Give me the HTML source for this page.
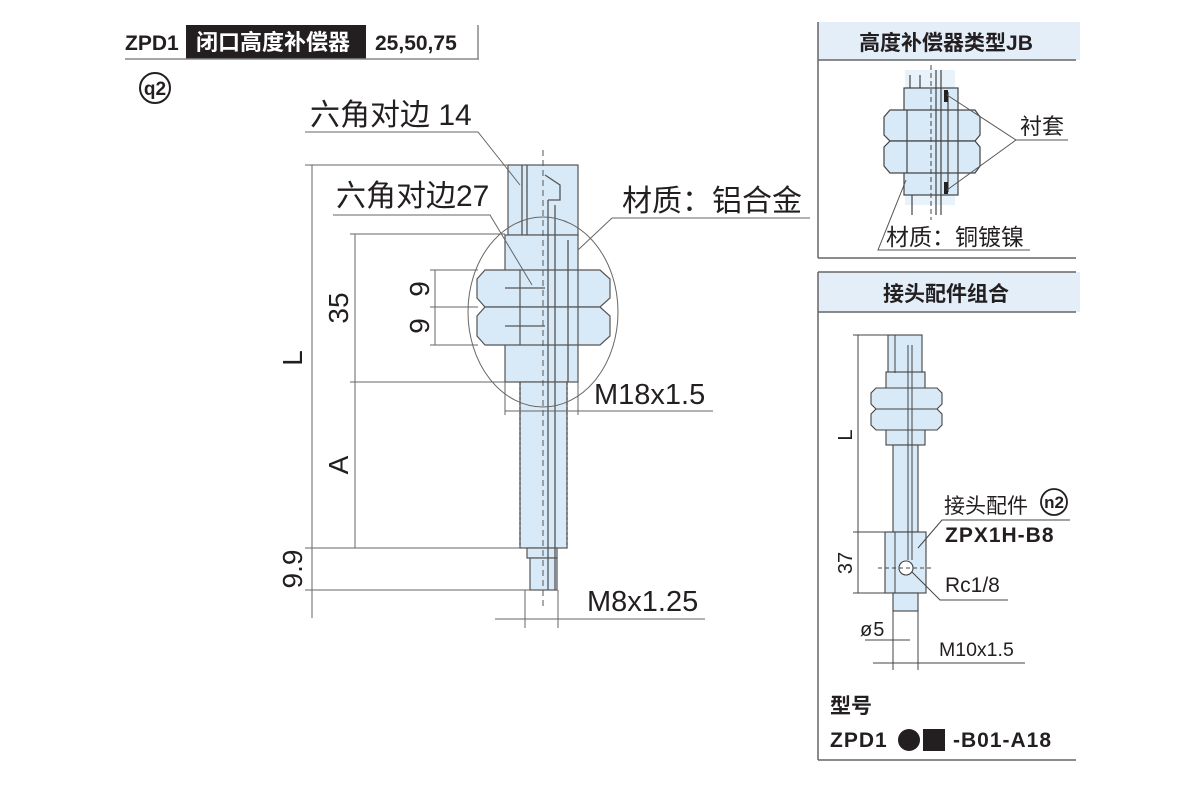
<!DOCTYPE html>
<html><head><meta charset="utf-8"><style>
html,body{margin:0;padding:0;background:#fff;}
svg{display:block;}
text{font-family:"Liberation Sans","Noto Sans CJK SC",sans-serif;fill:#231f20;}
.b{font-weight:bold;}
</style></head><body>
<svg width="1200" height="800" viewBox="0 0 1200 800" xmlns="http://www.w3.org/2000/svg">
<!-- header -->
<text x="125" y="50" font-size="21" class="b">ZPD1</text>
<rect x="186" y="25" width="180" height="34" fill="#231f20"/>
<text x="196" y="50" font-size="22" class="b" style="fill:#fff">闭口高度补偿器</text>
<text x="375" y="50" font-size="21" class="b">25,50,75</text>
<line x1="125" y1="59" x2="479" y2="59" stroke="#888" stroke-width="1.5"/>
<line x1="478" y1="25" x2="478" y2="59" stroke="#888" stroke-width="1.5"/>
<circle cx="155" cy="88" r="15" fill="#fff" stroke="#231f20" stroke-width="2"/>
<text x="155" y="95" font-size="19" class="b" text-anchor="middle">q2</text>

<!-- main drawing -->
<g stroke="#555" stroke-width="1.2" fill="#d8eaf7">
 <rect x="508" y="165" width="70" height="70"/>
 <rect x="505" y="235" width="73" height="147"/>
 <rect x="520" y="382" width="47" height="166"/>
 <rect x="527" y="548" width="30" height="10"/>
 <rect x="530" y="558" width="27" height="32"/>
 <path d="M485 270 L600 270 L610 279 L610 298 L600 307 L485 307 L477 298 L477 279 Z"/>
 <path d="M485 307 L600 307 L610 316 L610 336 L600 345 L485 345 L477 336 L477 316 Z"/>
 <line x1="520" y1="270" x2="520" y2="345"/>
 <line x1="505" y1="288" x2="545" y2="288"/>
 <line x1="505" y1="326" x2="545" y2="326"/>
 <line x1="578" y1="270" x2="578" y2="345"/>
</g>
<g stroke="#555" stroke-width="1.3" fill="none">
 <line x1="522" y1="165" x2="522" y2="235"/>
 <line x1="527" y1="165" x2="527" y2="235"/>
 <line x1="548" y1="200" x2="548" y2="590"/>
 <line x1="555" y1="205" x2="555" y2="590"/>
 <path d="M545 175 L560 185 L560 200 L548 200"/>
 <line x1="568" y1="240" x2="568" y2="382"/>
 <line x1="520" y1="382" x2="520" y2="548" stroke-dasharray="3,2"/>
 <line x1="567" y1="382" x2="567" y2="548" stroke-dasharray="3,2"/>
 <line x1="543" y1="150" x2="543" y2="610" stroke-dasharray="6,4" stroke-width="1"/>
 <ellipse cx="543" cy="312" rx="75" ry="95" stroke="#666" stroke-width="1"/>
</g>
<!-- dimensions main -->
<g stroke="#666" stroke-width="1" fill="none">
 <line x1="312" y1="165" x2="312" y2="618"/>
 <line x1="305" y1="165" x2="508" y2="165"/>
 <line x1="355" y1="234" x2="355" y2="548"/>
 <line x1="350" y1="234" x2="505" y2="234"/>
 <line x1="350" y1="382" x2="505" y2="382"/>
 <line x1="305" y1="548" x2="520" y2="548"/>
 <line x1="305" y1="590" x2="530" y2="590"/>
 <line x1="435" y1="270" x2="435" y2="345"/>
 <line x1="430" y1="270" x2="478" y2="270"/>
 <line x1="430" y1="307" x2="478" y2="307"/>
 <line x1="430" y1="345" x2="478" y2="345"/>
 <line x1="505" y1="382" x2="505" y2="415"/>
 <line x1="578" y1="382" x2="578" y2="415"/>
 <line x1="505" y1="411" x2="713" y2="411"/>
 <line x1="525" y1="590" x2="525" y2="628"/>
 <line x1="558" y1="590" x2="558" y2="628"/>
 <line x1="495" y1="619" x2="705" y2="619"/>
 <polyline points="305,132 478,132 520,185"/>
 <polyline points="333,215 490,215 532,285"/>
 <polyline points="810,218 612,218 578,250"/>
</g>
<text x="310" y="125" font-size="30">六角对边 14</text>
<text x="336" y="206" font-size="30">六角对边27</text>
<text x="622" y="211" font-size="30">材质：铝合金</text>
<text x="594" y="404" font-size="29">M18x1.5</text>
<text x="587" y="611" font-size="29">M8x1.25</text>
<text transform="translate(302,358) rotate(-90)" font-size="28" text-anchor="middle">L</text>
<text transform="translate(348,308) rotate(-90)" font-size="28" text-anchor="middle">35</text>
<text transform="translate(348,465) rotate(-90)" font-size="28" text-anchor="middle">A</text>
<text transform="translate(302,569) rotate(-90)" font-size="28" text-anchor="middle">9.9</text>
<text transform="translate(429,289) rotate(-90)" font-size="28" text-anchor="middle">9</text>
<text transform="translate(429,326) rotate(-90)" font-size="28" text-anchor="middle">9</text>

<!-- panel 1 -->
<rect x="818" y="22" width="262" height="38" fill="#e3eef8"/>
<g stroke="#666" stroke-width="1.5" fill="none">
 <line x1="818" y1="22" x2="818" y2="258"/>
 <line x1="818" y1="60" x2="1076" y2="60"/>
 <line x1="818" y1="258" x2="1076" y2="258"/>
</g>
<text x="946" y="50" font-size="21" class="b" text-anchor="middle">高度补偿器类型JB</text>
<rect x="905" y="70" width="50" height="135" fill="#e8f2fa"/>
<g stroke="#444" stroke-width="1.2" fill="#d8eaf7">
 <rect x="904" y="88" width="54" height="107"/>
 <path d="M890 110 L975 110 L980 117 L980 135 L975 141 L890 141 L884 135 L884 117 Z"/>
 <path d="M890 141 L975 141 L980 147 L980 166 L975 173 L890 173 L884 166 L884 147 Z"/>
 <line x1="907" y1="110" x2="907" y2="173"/>
 <line x1="958" y1="110" x2="958" y2="173"/>
</g>
<g stroke="#444" stroke-width="1.2" fill="none">
 <line x1="936" y1="70" x2="936" y2="215"/>
 <line x1="941" y1="70" x2="941" y2="215"/>
 <line x1="948" y1="92" x2="948" y2="192"/>
 <line x1="910" y1="75" x2="910" y2="88"/>
 <line x1="920" y1="75" x2="920" y2="88"/>
 <line x1="912" y1="195" x2="912" y2="215"/>
 <line x1="931" y1="65" x2="931" y2="220" stroke-dasharray="5,3" stroke-width="1"/>
</g>
<rect x="944" y="90" width="4" height="12" fill="#222"/>
<rect x="944" y="182" width="4" height="12" fill="#222"/>
<g stroke="#555" stroke-width="1" fill="none">
 <polyline points="947,95 1016,140 1068,140"/>
 <line x1="947" y1="190" x2="1016" y2="140"/>
 <polyline points="906,180 878,250 1030,250"/>
</g>
<text x="1020" y="134" font-size="22">衬套</text>
<text x="886" y="245" font-size="23">材质：铜镀镍</text>

<!-- panel 2 -->
<rect x="818" y="272" width="262" height="40" fill="#e3eef8"/>
<g stroke="#666" stroke-width="1.5" fill="none">
 <line x1="818" y1="272" x2="1076" y2="272"/>
 <line x1="818" y1="272" x2="818" y2="760"/>
 <line x1="818" y1="312" x2="1076" y2="312"/>
 <line x1="818" y1="760" x2="1076" y2="760"/>
</g>
<text x="946" y="301" font-size="21" class="b" text-anchor="middle">接头配件组合</text>
<g stroke="#444" stroke-width="1.1" fill="#d8eaf7">
 <rect x="888" y="335" width="34" height="38"/>
 <rect x="886" y="372" width="39" height="73"/>
 <rect x="893" y="445" width="25" height="87"/>
 <rect x="885" y="532" width="41" height="61"/>
 <rect x="893" y="593" width="25" height="18"/>
 <path d="M876 388 L937 388 L942 393 L942 404 L937 409 L876 409 L871 404 L871 393 Z"/>
 <path d="M876 409 L937 409 L942 414 L942 425 L937 430 L876 430 L871 425 L871 414 Z"/>
 <circle cx="906" cy="568" r="7" fill="#fff"/>
</g>
<g stroke="#444" stroke-width="1" fill="none">
 <line x1="895" y1="335" x2="895" y2="373"/>
 <line x1="908" y1="345" x2="908" y2="560"/>
 <line x1="912" y1="345" x2="912" y2="560"/>
 <line x1="895" y1="532" x2="895" y2="593"/>
 <line x1="878" y1="568" x2="932" y2="568" stroke-dasharray="4,3"/>
 <line x1="858" y1="335" x2="858" y2="593"/>
 <line x1="853" y1="335" x2="888" y2="335"/>
 <line x1="853" y1="532" x2="885" y2="532"/>
 <line x1="853" y1="593" x2="885" y2="593"/>
 <polyline points="1070,520 942,520 918,548"/>
 <polyline points="912,572 940,600 1008,600"/>
 <line x1="865" y1="640" x2="910" y2="640"/>
 <line x1="873" y1="663" x2="1025" y2="663"/>
 <line x1="893" y1="611" x2="893" y2="670"/>
 <line x1="918" y1="611" x2="918" y2="670"/>
</g>
<text transform="translate(852,435) rotate(-90)" font-size="20" text-anchor="middle">L</text>
<text transform="translate(852,563) rotate(-90)" font-size="20" text-anchor="middle">37</text>
<text x="944" y="513" font-size="21">接头配件</text>
<circle cx="1054" cy="502" r="13" fill="#fff" stroke="#231f20" stroke-width="1.8"/>
<text x="1054" y="508" font-size="17" class="b" text-anchor="middle">n2</text>
<text x="945" y="542" font-size="21" class="b" letter-spacing="1">ZPX1H-B8</text>
<text x="945" y="592" font-size="21">Rc1/8</text>
<text x="860" y="636" font-size="20" letter-spacing="1">ø5</text>
<text x="939" y="656" font-size="19.5">M10x1.5</text>
<text x="830" y="713" font-size="21" class="b">型号</text>
<text x="830" y="747" font-size="21" class="b" letter-spacing="1">ZPD1</text>
<circle cx="909" cy="740" r="11" fill="#231f20"/>
<rect x="923" y="729" width="22" height="22" fill="#231f20"/>
<text x="953" y="747" font-size="21" class="b" letter-spacing="1">-B01-A18</text>
</svg>
</body></html>
